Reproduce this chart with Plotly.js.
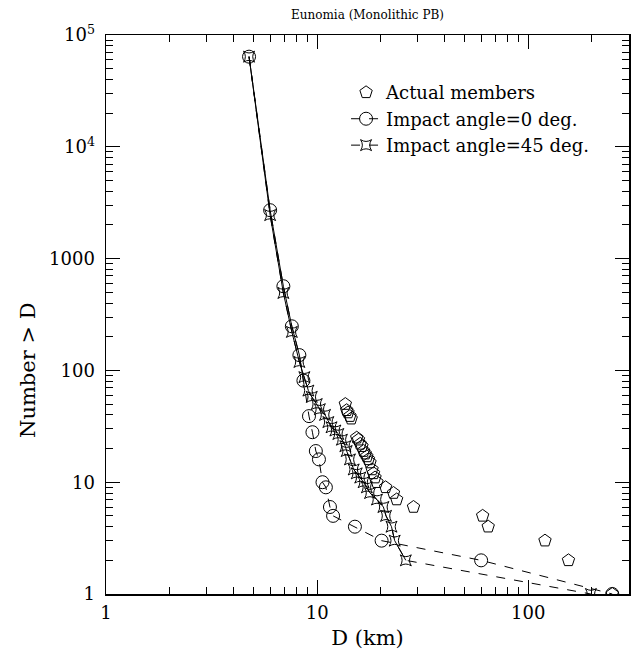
<!DOCTYPE html>
<html>
<head>
<meta charset="utf-8">
<script src="https://cdn.plot.ly/plotly-3.0.1.min.js"></script>
<style>html,body{margin:0;padding:0;background:#fff;}#chart{width:633px;height:660px;}</style>
</head>
<body>
<div id="chart"></div>
<script>
// ---- Data ----
const pentD = [13.6, 13.8, 14.0, 14.3, 14.5, 15.4, 15.7, 16.0, 16.3, 16.6, 16.9, 17.2, 17.5, 17.8, 18.2, 18.5, 18.8, 19.2, 21.1, 23.0, 23.8, 28.6, 60.8, 64.6, 120, 155, 250];
const pentN = [50, 44, 42, 39, 37, 25, 24, 22, 21, 19, 18, 17, 16, 15, 13, 12, 11, 10, 9, 8, 7, 6, 5, 4, 3, 2, 1];

const circleD = [4.76, 5.99, 6.92, 7.59, 8.24, 8.61, 9.15, 9.5, 9.86, 10.2, 10.6, 11.0, 11.5, 11.9, 15.1, 20.2, 59.8, 250];
const circleN = [64000, 2710, 566, 248, 137, 81, 39, 28, 19, 16, 10, 9, 6, 5, 4, 3, 2, 1];

const starD = [4.76, 5.99, 6.92, 7.59, 8.24, 8.70, 9.09, 9.43, 9.96, 10.3, 10.9, 11.3, 11.7, 12.2, 12.6, 13.1, 13.6, 13.8, 14.3, 14.9, 15.4, 16.0, 16.6, 17.2, 17.8, 19.2, 20.6, 21.2, 22.5, 23.3, 26.3, 198];
const starN = [64000, 2450, 493, 221, 119, 87, 66, 58, 50, 45, 40, 34.5, 31, 29, 27, 24, 21, 19, 16, 13, 12, 11, 10, 9, 8, 7, 6, 5, 4, 3, 2, 1];

const seriesNames = ['Actual members', 'Impact angle=0 deg.', 'Impact angle=45 deg.'];
const xTickVals = [1, 10, 100];
const xTickText = ['1', '10', '100'];
const yTickVals = [1, 10, 100, 1000, 10000, 100000];
const yTickText = ['1', '10', '100', '1000', '10<sup>4</sup>', '10<sup>5</sup>'];
const chartTitle = 'Eunomia (Monolithic PB)';
const xTitle = 'D (km)';
const yTitle = 'Number > D';

// ---- Styling ----
const circleSolidEnd = 6;   // number of leading points joined by a solid line
const starSolidEnd = 31;
const serif = 'DejaVu Serif';

const xMinor = [], yMinor = [];
for (let d = 0; d < 3; d++) for (let k = 2; k <= 9; k++) { const v = k * Math.pow(10, d); if (v < 300) xMinor.push(v); }
for (let d = 0; d < 5; d++) for (let k = 2; k <= 9; k++) yMinor.push(k * Math.pow(10, d));

const traces = [
  { x: circleD.slice(0, circleSolidEnd), y: circleN.slice(0, circleSolidEnd), mode: 'lines',
    line: { color: '#000', width: 1 }, showlegend: false, hoverinfo: 'skip' },
  { x: starD.slice(0, starSolidEnd), y: starN.slice(0, starSolidEnd), mode: 'lines',
    line: { color: '#000', width: 1 }, showlegend: false, hoverinfo: 'skip' },
  { x: pentD, y: pentN, name: seriesNames[0], mode: 'markers', legendgroup: 'a',
    marker: { symbol: 'pentagon-open', size: 13, color: '#000', line: { width: 1, color: '#000' } } },
  { x: circleD, y: circleN, name: seriesNames[1], mode: 'lines+markers', legendgroup: 'b',
    line: { color: '#000', width: 1, dash: 'dash' },
    marker: { symbol: 'circle-open', size: 13, color: '#000', line: { width: 1, color: '#000' } } },
  { x: starD, y: starN, name: seriesNames[2], mode: 'lines+markers', legendgroup: 'c',
    line: { color: '#000', width: 1, dash: 'dash' },
    marker: { symbol: 'star-square-open', size: 10, color: '#000', line: { width: 1, color: '#000' } } }
];

const axisCommon = {
  type: 'log', showgrid: false, zeroline: false, showline: true, linecolor: '#000', linewidth: 1.5,
  mirror: 'allticks', ticks: 'inside', ticklen: 14, tickwidth: 1, tickcolor: '#000',
  tickfont: { family: serif, size: 18, color: '#000' }
};

const layout = {
  width: 633, height: 660,
  margin: { l: 106, r: 4, t: 35, b: 66 },
  paper_bgcolor: '#fff', plot_bgcolor: '#fff',
  title: { text: chartTitle, font: { family: serif, size: 12, color: '#000' },
           x: 0.5, xref: 'paper', xanchor: 'center', y: 0.977, yanchor: 'middle' },
  xaxis: Object.assign({}, axisCommon, {
    range: [0, Math.log10(300)], tickmode: 'array', tickvals: xTickVals, ticktext: xTickText,
    minor: { tickmode: 'array', tickvals: xMinor, ticks: 'inside', ticklen: 7, tickwidth: 1, tickcolor: '#000' },
    ticklabelstandoff: 2,
    title: { text: xTitle, font: { family: serif, size: 21, color: '#000' }, standoff: 8 }
  }),
  yaxis: Object.assign({}, axisCommon, {
    range: [0, 5], tickmode: 'array', tickvals: yTickVals, ticktext: yTickText,
    minor: { tickmode: 'array', tickvals: yMinor, ticks: 'inside', ticklen: 7, tickwidth: 1, tickcolor: '#000' },
    ticklabelstandoff: 6
  }),
  annotations: [{
    text: yTitle, textangle: -90, xref: 'paper', yref: 'paper', x: -0.148, y: 0.40,
    xanchor: 'center', yanchor: 'middle', showarrow: false,
    font: { family: serif, size: 21, color: '#000' }
  }],
  legend: { x: 0.459, xanchor: 'left', y: 0.93, yanchor: 'top', bgcolor: 'rgba(0,0,0,0)',
            traceorder: 'grouped', tracegroupgap: 0,
            font: { family: serif, size: 18, color: '#000' } },
  showlegend: true
};

Plotly.newPlot('chart', traces, layout, { staticPlot: true, displayModeBar: false });
</script>
</body>
</html>
